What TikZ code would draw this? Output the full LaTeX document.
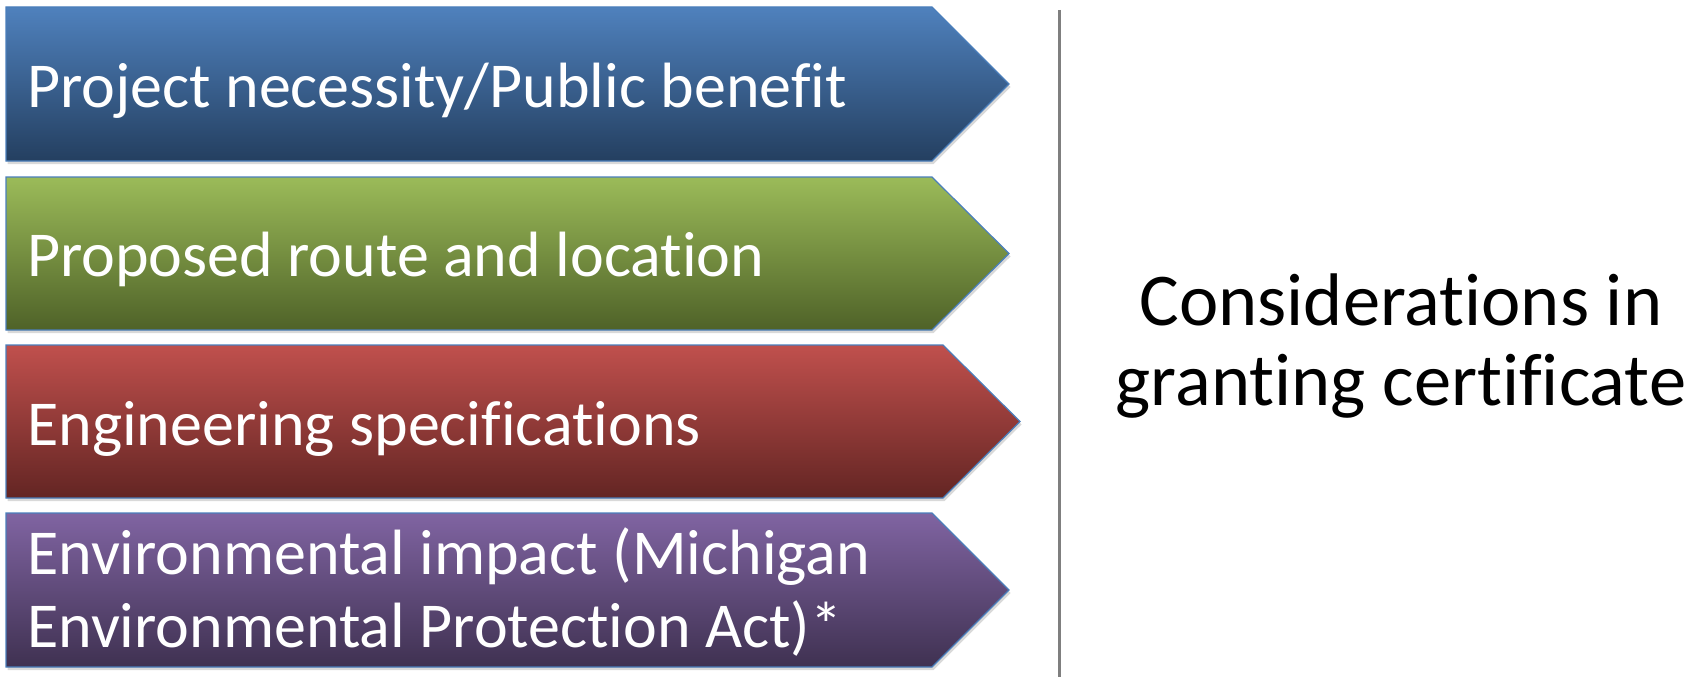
\documentclass[tikz,border=0pt]{standalone}
\usepackage{fontspec}
\setmainfont{Carlito}[Ligatures=NoCommon]
\usetikzlibrary{shadows}
\definecolor{bluetop}{HTML}{4F81BD}
\definecolor{bluebot}{HTML}{243F60}
\definecolor{greentop}{HTML}{9BBB59}
\definecolor{greenbot}{HTML}{4F6228}
\definecolor{redtop}{HTML}{C0504D}
\definecolor{redbot}{HTML}{632523}
\definecolor{purptop}{HTML}{8064A2}
\definecolor{purpbot}{HTML}{3F3151}
\definecolor{edgeblue}{HTML}{4A7EBB}
\definecolor{divgray}{HTML}{7F7F7F}
\begin{document}
\begin{tikzpicture}[x=1pt,y=-1pt,
    arrowbox/.style={draw=edgeblue, line width=1.2pt,
      drop shadow={shadow xshift=1.5pt,shadow yshift=-3pt,opacity=.3}},
    itemtext/.style={anchor=base west, text=white, inner sep=0pt,
      align=left, font=\fontsize{64}{73}\selectfont}]
    \useasboundingbox (0,0) rectangle (1702,677);
    % the four signal boxes
    \path[arrowbox, top color=bluetop, bottom color=bluebot]
      (6,7) -- (932,7) -- (1009,84) -- (932,161) -- (6,161) -- cycle;
    \path[arrowbox, top color=greentop, bottom color=greenbot]
      (6,177) -- (932,177) -- (1009,253.5) -- (932,330) -- (6,330) -- cycle;
    \path[arrowbox, top color=redtop, bottom color=redbot]
      (6,345) -- (943,345) -- (1020,421.5) -- (943,498) -- (6,498) -- cycle;
    \path[arrowbox, top color=purptop, bottom color=purpbot]
      (6,513) -- (932,513) -- (1009,590) -- (932,667) -- (6,667) -- cycle;
    \node[itemtext] (necessity) at (27,107) {Project necessity/Public benefit};
    \node[itemtext] (route) at (27,276.5) {Proposed route and location};
    \node[itemtext] (specs) at (27,445) {Engineering specifications};
    % base of a two-line node is its last line
    \node[itemtext] (envimpact) at (27,647) {Environmental impact (Michigan\\Environmental Protection Act)*};
    % divider
    \draw[divgray, line width=3pt] (1059,10) -- (1059,677);
    \node[anchor=base, inner sep=0pt, align=center,
      font=\fontsize{74.5}{80}\selectfont] (consid) at (1401,405)
      {Considerations in\\granting certificate};
\end{tikzpicture}
\end{document}
